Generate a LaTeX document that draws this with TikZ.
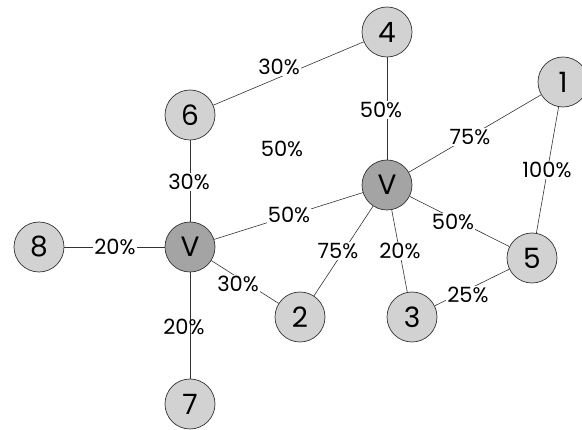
\documentclass[tikz,border=0pt]{standalone}
\usepackage{fontspec}
\setmainfont{Poppins}
\definecolor{nodelight}{HTML}{D2D2D2}
\definecolor{nodedark}{HTML}{A4A4A4}
\definecolor{edgecol}{HTML}{333333}
\begin{document}
\begin{tikzpicture}[x=1pt,y=-1pt,
  vert/.style={circle,draw=edgecol,line width=0.7pt,fill=nodelight,minimum size=50pt,inner sep=0pt,font=\fontsize{28}{30}\selectfont},
  hub/.style={vert,fill=nodedark},
  edge/.style={draw=edgecol,line width=0.6pt},
  lab/.style={fill=white,inner sep=1pt,font=\fontsize{21}{23}\selectfont},
  labclear/.style={inner sep=1pt,font=\fontsize{21}{23}\selectfont}]
\useasboundingbox (0,0) rectangle (582,430);
\node[vert] (n4) at (387,32) {4};
\node[vert] (n1) at (563,82) {1};
\node[vert] (n6) at (190,115) {6};
\node[hub] (vr) at (387,185) {V};
\node[hub] (vl) at (190,247) {V};
\node[vert] (n8) at (39,247) {8};
\node[vert] (n5) at (532,258) {5};
\node[vert] (n2) at (300,317) {2};
\node[vert] (n3) at (412,317) {3};
\node[vert] (n7) at (190,404) {7};
\draw[edge] (n6) -- (n4);
\draw[edge] (n4) -- (vr);
\draw[edge] (vr) -- (n1);
\draw[edge] (n1) -- (n5);
\draw[edge] (n6) -- (vl);
\draw[edge] (n8) -- (vl);
\draw[edge] (vl) -- (vr);
\draw[edge] (vr) -- (n2);
\draw[edge] (vr) -- (n3);
\draw[edge] (vr) -- (n5);
\draw[edge] (n3) -- (n5);
\draw[edge] (vl) -- (n2);
\draw[edge] (vl) -- (n7);
\node[lab] (l64) at (279,67) {30\%};
\node[lab] (lfree) at (282,149) {50\%};
\node[lab] (l6v) at (189,182) {30\%};
\node[lab] (l4v) at (381,110) {50\%};
\node[lab] (lv1) at (470,137) {75\%};
\node[lab] (l15) at (547,170) {100\%};
\node[lab] (l8v) at (115,247) {20\%};
\node[lab] (lv2l) at (238,284) {30\%};
\node[labclear] (lv7) at (184,327) {20\%};
\node[lab] (lvv) at (289,215) {50\%};
\node[lab] (lv2) at (338,251) {75\%};
\node[lab] (lv3) at (400,251) {20\%};
\node[lab] (lv5) at (453,222) {50\%};
\node[lab] (l35) at (468,295) {25\%};
\end{tikzpicture}
\end{document}
